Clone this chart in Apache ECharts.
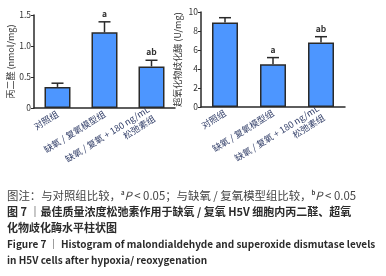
<!DOCTYPE html>
<html>
<head>
<meta charset="utf-8">
<script src="https://cdn.jsdelivr.net/npm/echarts@6/dist/echarts.min.js"></script>
<style>
  html, body { margin: 0; padding: 0; background: #fff; }
  #chart { width: 386px; height: 276px; }
</style>
</head>
<body>
<div id="chart"></div>
<script>
// groups on the x axis (shared by both panels)
const categories = ['对照组', '缺氧 / 复氧模型组', '缺氧 / 复氧 + 180 ng/mL\n松弛素组']

// left panel: malondialdehyde
const mdaValues = [0.34, 1.22, 0.67]
const mdaErrors = [0.06, 0.17, 0.10]
const mdaMarks = ['', 'a', 'ab']
const mdaTicks = [0, 0.5, 1.0, 1.5]

// right panel: superoxide dismutase
const sodValues = [8.9, 4.5, 6.8]
const sodErrors = [0.5, 0.7, 0.6]
const sodMarks = ['', 'a', 'ab']
const sodTicks = [0, 2, 4, 6, 8, 10]

const captionLines = [
  { text: '图注：与对照组比较，{s|a}{i|P} < 0.05；与缺氧 / 复氧模型组比较，{s|b}{i|P} < 0.05', bold: false, size: 11.4 },
  { text: '图 7 ｜最佳质量浓度松弛素作用于缺氧 / 复氧 H5V 细胞内丙二醛、超氧', bold: true, size: 11 },
  { text: '化物歧化酶水平柱状图', bold: true, size: 11 },
  { text: 'Figure 7 ｜ Histogram of malondialdehyde and superoxide dismutase levels', bold: true, size: 10 },
  { text: 'in H5V cells after hypoxia/ reoxygenation', bold: true, size: 10 }
]

const font = '"Noto Sans CJK SC", "Noto Sans", sans-serif'
const axisColor = '#2a2a2a'
const barColor = '#4d96ff'

const chart = echarts.init(document.getElementById('chart'))

function errorSeries(idx, values, errors, marks) {
  return {
    type: 'custom',
    xAxisIndex: idx,
    yAxisIndex: idx,
    z: 1,
    data: values.map((v, i) => [i, v, v + errors[i]]),
    renderItem(params, api) {
      const base = api.coord([api.value(0), api.value(1)])
      const top = api.coord([api.value(0), api.value(2)])
      const half = 6
      const children = [
        { type: 'line', shape: { x1: base[0], y1: base[1], x2: top[0], y2: top[1] }, style: { stroke: axisColor, lineWidth: 1.5 } },
        { type: 'line', shape: { x1: top[0] - half, y1: top[1], x2: top[0] + half, y2: top[1] }, style: { stroke: axisColor, lineWidth: 1.5 } }
      ]
      const mark = marks[params.dataIndex]
      if (mark) {
        children.push({
          type: 'text',
          style: { text: mark, x: top[0], y: top[1] - 4, align: 'center', verticalAlign: 'bottom', fill: '#333', font: 'bold 8.5px ' + font }
        })
      }
      return { type: 'group', children }
    }
  }
}

function xAxis(idx) {
  return {
    type: 'category',
    gridIndex: idx,
    data: categories,
    axisLine: { lineStyle: { color: axisColor, width: 1.5 } },
    axisTick: { alignWithLabel: true, length: 3, lineStyle: { color: axisColor } },
    axisLabel: { rotate: 32, fontSize: 9, color: '#34406a', fontFamily: font, margin: 5, interval: 0, lineHeight: 11 }
  }
}

function yAxis(idx, ticks, name, fmt) {
  return {
    type: 'value',
    gridIndex: idx,
    min: ticks[0],
    max: ticks[ticks.length - 1],
    interval: ticks[1] - ticks[0],
    name,
    nameLocation: 'middle',
    nameGap: 19,
    nameTextStyle: { fontSize: 9, color: '#333', fontFamily: font },
    axisLine: { show: true, lineStyle: { color: axisColor, width: 1.5 } },
    axisTick: { show: true, length: 3, lineStyle: { color: axisColor } },
    axisLabel: { fontSize: 8.5, color: '#333', fontFamily: font, margin: 3, formatter: fmt },
    splitLine: { show: false }
  }
}

chart.setOption({
  animation: false,
  grid: [
    { left: 34, top: 15, width: 141, height: 93 },
    { left: 201, top: 12, width: 144, height: 95 }
  ],
  xAxis: [xAxis(0), xAxis(1)],
  yAxis: [
    yAxis(0, mdaTicks, '丙二醛 (nmol/mg)', (v) => (v === 0 ? '0' : v.toFixed(1))),
    yAxis(1, sodTicks, '超氧化物歧化酶 (U/mg)', (v) => String(v))
  ],
  graphic: captionLines.map((line, i) => ({
    type: 'text',
    left: 7,
    top: 190 + i * 16.3,
    style: {
      text: line.text,
      fill: line.bold ? '#2b2b2b' : '#444',
      font: (line.bold ? 'bold ' : '') + line.size + 'px ' + font,
      rich: {
        s: { fontSize: 6, verticalAlign: 'top', fill: '#444', fontFamily: font, fontWeight: 'bold' },
        i: { fontSize: line.size, fontStyle: 'italic', fill: '#444', fontFamily: font }
      }
    }
  })),
  series: [
    {
      type: 'bar',
      xAxisIndex: 0,
      yAxisIndex: 0,
      z: 2,
      barWidth: 26,
      data: mdaValues,
      itemStyle: { color: barColor, borderColor: axisColor, borderWidth: 1.5 }
    },
    errorSeries(0, mdaValues, mdaErrors, mdaMarks),
    {
      type: 'bar',
      xAxisIndex: 1,
      yAxisIndex: 1,
      z: 2,
      barWidth: 26,
      data: sodValues,
      itemStyle: { color: barColor, borderColor: axisColor, borderWidth: 1.5 }
    },
    errorSeries(1, sodValues, sodErrors, sodMarks)
  ]
})
</script>
</body>
</html>
